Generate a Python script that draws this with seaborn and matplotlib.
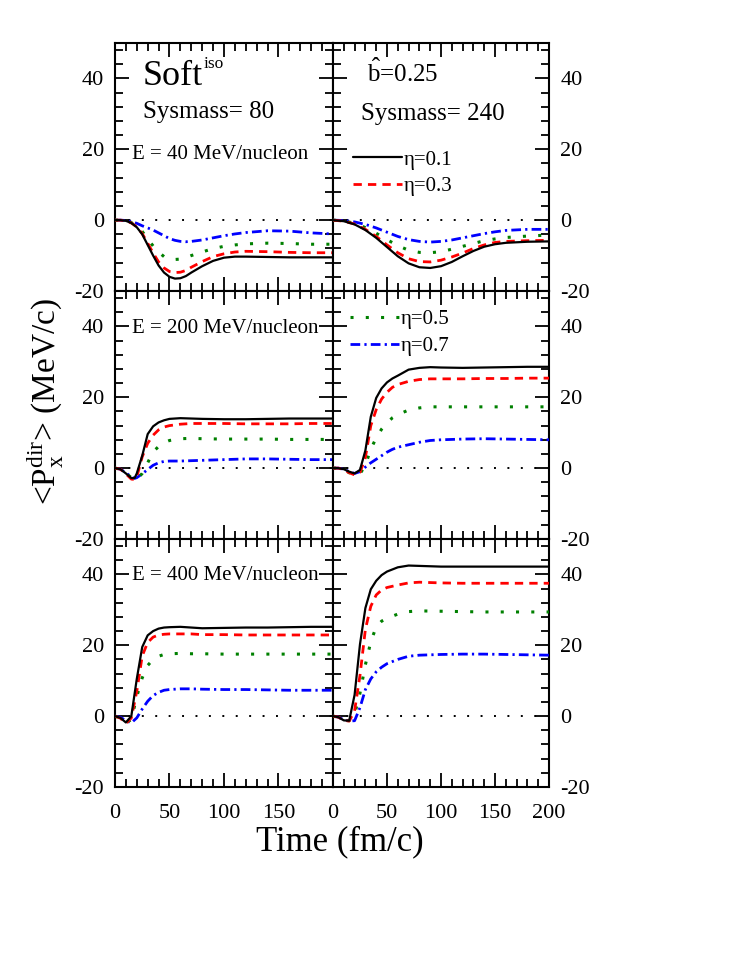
import numpy as np
import pandas as pd
import matplotlib
matplotlib.use('Agg')
import matplotlib.pyplot as plt
import seaborn as sns
from matplotlib.ticker import MultipleLocator, FixedLocator, FuncFormatter
from matplotlib.lines import Line2D

# ---------------- data ----------------
eta_labels = ["η=0.1", "η=0.3", "η=0.5", "η=0.7"]

# E = 40 MeV/nucleon, Sysmass = 80
t_40_80 = [0, 5, 10, 15, 20, 25, 30, 35, 40, 45, 50, 55, 60, 65, 70, 80, 90, 100, 110, 120, 140, 160, 180, 200]
p_40_80_e1 = [0, 0, -0.2, -0.8, -2.0, -4.0, -7.0, -10.0, -12.8, -14.8, -16.0, -16.5, -16.4, -15.8, -14.8, -13.0, -11.5, -10.6, -10.3, -10.3, -10.4, -10.5, -10.5, -10.5]
p_40_80_e3 = [0, 0, -0.2, -0.8, -1.9, -3.8, -6.5, -9.3, -11.8, -13.5, -14.5, -14.8, -14.7, -14.2, -13.3, -11.7, -10.3, -9.5, -9.0, -8.8, -8.9, -9.1, -9.2, -9.2]
p_40_80_e5 = [0, 0, -0.2, -0.7, -1.7, -3.2, -5.3, -7.3, -9.0, -10.3, -11.0, -11.1, -11.0, -10.6, -10.0, -9.0, -8.0, -7.4, -7.0, -6.7, -6.5, -6.6, -6.8, -6.8]
p_40_80_e7 = [0, 0, -0.1, -0.4, -0.9, -1.6, -2.2, -2.8, -3.6, -4.4, -5.2, -5.7, -6.0, -6.1, -6.0, -5.6, -5.0, -4.4, -3.9, -3.5, -3.0, -3.1, -3.6, -3.9]

# E = 40 MeV/nucleon, Sysmass = 240
t_40_240 = [0, 10, 20, 30, 40, 50, 60, 70, 80, 90, 100, 110, 120, 130, 140, 150, 160, 180, 200]
p_40_240_e1 = [0, -0.3, -1.2, -2.8, -5.0, -7.6, -10.2, -12.2, -13.3, -13.5, -13.0, -11.8, -10.2, -8.7, -7.5, -6.8, -6.4, -6.1, -6.0]
p_40_240_e3 = [0, -0.3, -1.1, -2.6, -4.6, -7.0, -9.2, -10.9, -11.7, -11.8, -11.3, -10.4, -9.3, -8.0, -7.0, -6.3, -6.0, -5.8, -5.7]
p_40_240_e5 = [0, -0.2, -0.9, -2.1, -3.7, -5.5, -7.2, -8.5, -9.1, -9.2, -8.9, -8.2, -7.4, -6.6, -5.8, -5.3, -4.9, -4.5, -4.2]
p_40_240_e7 = [0, -0.1, -0.5, -1.2, -2.2, -3.4, -4.6, -5.5, -6.0, -6.2, -6.0, -5.6, -5.0, -4.4, -3.8, -3.3, -2.9, -2.6, -2.6]

# E = 200 MeV/nucleon, Sysmass = 80
t_200_80 = [0, 5, 10, 15, 18, 20, 25, 30, 35, 40, 45, 50, 60, 70, 80, 100, 120, 140, 160, 180, 200]
p_200_80_e1 = [0, -0.3, -1.5, -2.8, -2.8, -1.5, 3.5, 9.6, 11.8, 12.9, 13.5, 13.9, 14.1, 14.0, 13.9, 13.8, 13.8, 13.9, 14.0, 14.0, 14.0]
p_200_80_e3 = [0, -0.3, -1.6, -3.1, -3.2, -2.5, 3.2, 7.0, 9.3, 10.8, 11.6, 12.0, 12.4, 12.6, 12.6, 12.6, 12.5, 12.5, 12.5, 12.6, 12.6]
p_200_80_e5 = [0, -0.3, -1.4, -2.7, -3.2, -3.2, -1.5, 1.5, 4.6, 6.1, 7.2, 7.8, 8.3, 8.4, 8.3, 8.2, 8.2, 8.2, 8.1, 8.1, 8.1]
p_200_80_e7 = [0, -0.3, -1.3, -2.5, -2.9, -2.7, -1.6, -0.4, 0.8, 1.5, 1.9, 2.0, 2.0, 2.1, 2.2, 2.4, 2.6, 2.6, 2.5, 2.4, 2.4]

# E = 200 MeV/nucleon, Sysmass = 240
t_200_240 = [0, 5, 10, 15, 20, 25, 30, 35, 40, 45, 50, 55, 60, 70, 80, 90, 100, 120, 140, 160, 180, 200]
p_200_240_e1 = [0, 0, -0.3, -1.0, -1.5, -0.5, 5.0, 14.5, 19.8, 22.5, 24.2, 25.3, 26.1, 27.8, 28.3, 28.5, 28.4, 28.3, 28.4, 28.5, 28.6, 28.6]
p_200_240_e3 = [0, 0, -0.4, -1.3, -1.9, -1.2, 3.0, 12.0, 16.5, 19.5, 21.4, 22.8, 23.6, 24.5, 25.0, 25.2, 25.2, 25.2, 25.3, 25.3, 25.4, 25.4]
p_200_240_e5 = [0, 0, -0.4, -1.3, -2.0, -1.6, 0.8, 5.4, 8.5, 11.0, 12.8, 14.2, 15.1, 16.4, 17.0, 17.3, 17.3, 17.3, 17.3, 17.3, 17.3, 17.3]
p_200_240_e7 = [0, 0, -0.3, -1.0, -1.5, -1.0, 0.3, 1.5, 2.5, 3.5, 4.5, 5.3, 5.9, 6.6, 7.3, 7.8, 8.0, 8.2, 8.3, 8.2, 8.1, 8.0]

# E = 400 MeV/nucleon, Sysmass = 80
t_400_80 = [0, 5, 10, 15, 20, 25, 30, 35, 40, 45, 50, 60, 70, 80, 100, 120, 140, 160, 180, 200]
p_400_80_e1 = [0, -0.5, -1.8, 0.0, 10.5, 19.5, 22.8, 24.0, 24.7, 25.0, 25.1, 25.2, 25.0, 24.8, 24.9, 25.0, 25.0, 25.1, 25.2, 25.2]
p_400_80_e3 = [0, -0.6, -2.1, -0.5, 7.0, 17.0, 20.8, 22.3, 22.9, 23.1, 23.2, 23.2, 23.2, 23.0, 23.0, 22.9, 22.9, 22.9, 22.9, 22.9]
p_400_80_e5 = [0, -0.6, -1.9, -1.0, 5.5, 10.8, 14.3, 16.0, 16.9, 17.4, 17.6, 17.7, 17.6, 17.6, 17.5, 17.5, 17.5, 17.5, 17.5, 17.5]
p_400_80_e7 = [0, -0.3, -1.3, -1.9, -0.5, 2.0, 4.2, 5.8, 6.7, 7.3, 7.5, 7.7, 7.7, 7.6, 7.5, 7.5, 7.4, 7.3, 7.3, 7.3]

# E = 400 MeV/nucleon, Sysmass = 240
t_400_240 = [0, 5, 10, 15, 20, 25, 30, 35, 40, 45, 50, 60, 70, 80, 100, 120, 140, 160, 180, 200]
p_400_240_e1 = [0, -0.3, -1.2, -1.3, 6.0, 20.3, 30.5, 35.8, 38.2, 39.8, 40.8, 42.0, 42.5, 42.4, 42.2, 42.2, 42.2, 42.2, 42.2, 42.2]
p_400_240_e3 = [0, -0.3, -1.2, -1.4, 1.5, 11.5, 24.5, 31.0, 34.2, 35.6, 36.3, 37.0, 37.6, 37.8, 37.6, 37.5, 37.5, 37.5, 37.5, 37.5]
p_400_240_e5 = [0, -0.3, -1.1, -1.3, 0.5, 6.5, 14.5, 21.0, 25.2, 26.8, 27.6, 28.8, 29.5, 29.7, 29.6, 29.5, 29.4, 29.4, 29.4, 29.4]
p_400_240_e7 = [0, -0.3, -1.0, -1.4, -1.3, 2.4, 7.5, 10.5, 12.5, 13.8, 14.8, 16.0, 16.9, 17.2, 17.4, 17.5, 17.5, 17.4, 17.3, 17.2]

x_ticks = [0, 50, 100, 150, 200]
y_ticks = [-20, 0, 20, 40]

# ---------------- style ----------------
sns.set_theme(style='ticks')
plt.rcParams['font.family'] = ['Liberation Serif', 'DejaVu Serif']
plt.rcParams['mathtext.fontset'] = 'custom'
plt.rcParams['mathtext.rm'] = 'Liberation Serif'
plt.rcParams['mathtext.it'] = 'Liberation Serif:italic'
plt.rcParams['mathtext.bf'] = 'Liberation Serif:bold'
plt.rcParams['axes.unicode_minus'] = False
plt.rcParams['text.color'] = 'black'
plt.rcParams['axes.labelcolor'] = 'black'
plt.rcParams['legend.labelcolor'] = 'black'

fig = plt.figure(figsize=(7.52, 9.73), dpi=100)

col_x = [0.1529, 0.4428]
col_w = [0.2899, 0.2873]
row_bottom = 0.1912
row_h = (0.9558 - 0.1912) / 3

styles = [
    dict(color='black', linestyle='-', linewidth=1.6),
    dict(color='#ff0000', linestyle=(0, (3, 2.2)), linewidth=2.0),
    dict(color='#008000', linestyle=(0, (1, 4)), linewidth=2.2),
    dict(color='#0000ff', linestyle=(0, (3.5, 1.5, 0.8, 1.5)), linewidth=2.0),
]

panels = [
    [(t_40_80, [p_40_80_e1, p_40_80_e3, p_40_80_e5, p_40_80_e7]),
     (t_40_240, [p_40_240_e1, p_40_240_e3, p_40_240_e5, p_40_240_e7])],
    [(t_200_80, [p_200_80_e1, p_200_80_e3, p_200_80_e5, p_200_80_e7]),
     (t_200_240, [p_200_240_e1, p_200_240_e3, p_200_240_e5, p_200_240_e7])],
    [(t_400_80, [p_400_80_e1, p_400_80_e3, p_400_80_e5, p_400_80_e7]),
     (t_400_240, [p_400_240_e1, p_400_240_e3, p_400_240_e5, p_400_240_e7])],
]

axes = {}
for r in range(3):
    for c in range(2):
        y0 = row_bottom + (2 - r) * row_h
        ax = fig.add_axes([col_x[c], y0, col_w[c], row_h])
        axes[(r, c)] = ax
        t, series = panels[r][c]
        ax.axhline(0, color='black', linestyle=(0, (1, 5.9)), linewidth=1.4, zorder=1)
        handles = []
        for k, vals in enumerate(series):
            df = pd.DataFrame({'t': t, 'p': vals})
            sns.lineplot(data=df, x='t', y='p', ax=ax, sort=True, estimator=None,
                         zorder=3 + (3 - k), **styles[k])
            handles.append(Line2D([], [], **styles[k]))
        ax.set_xlim(0, 200)
        ax.set_ylim(-20, 50)
        ax.set_xlabel('')
        ax.set_ylabel('')
        ax.xaxis.set_major_locator(FixedLocator(x_ticks))
        ax.xaxis.set_minor_locator(MultipleLocator(10))
        ax.yaxis.set_major_locator(FixedLocator(y_ticks))
        ax.yaxis.set_minor_locator(MultipleLocator(4))
        ax.tick_params(which='both', direction='in', top=True, bottom=True,
                       left=True, right=True, width=1.3, colors='black',
                       labelsize=16)
        ax.tick_params(which='major', length=10)
        ax.tick_params(which='minor', length=5.5)
        ax.tick_params(axis='x', pad=12)
        ax.tick_params(axis='y', pad=8)
        ax.tick_params(labelbottom=(r == 2), labeltop=False,
                       labelleft=(c == 0), labelright=(c == 1))
        for sp in ax.spines.values():
            sp.set_linewidth(1.5)
            sp.set_color('black')
        if r == 2 and c == 0:
            ax.xaxis.set_major_formatter(FuncFormatter(lambda v, p: '' if v == 200 else f'{v:g}'))
        else:
            ax.xaxis.set_major_formatter(FuncFormatter(lambda v, p: f'{v:g}'))
        ax.yaxis.set_major_formatter(FuncFormatter(lambda v, p: f'{v:g}'))
        ax.set_facecolor('white')
        if r == 0 and c == 1:
            ax.legend(handles[:2], eta_labels[:2], loc='center left',
                      bbox_to_anchor=(0.093, 0.475), frameon=False, fontsize=15,
                      handlelength=2.35, handletextpad=0.1, labelspacing=0.35,
                      borderpad=0, borderaxespad=0)
        if r == 1 and c == 1:
            ax.legend(handles[2:], eta_labels[2:], loc='center left',
                      bbox_to_anchor=(0.079, 0.832), frameon=False, fontsize=15,
                      handlelength=2.35, handletextpad=0.1, labelspacing=0.35,
                      borderpad=0, borderaxespad=0)

# panel annotations
a = axes[(0, 0)]
a.text(0.128, 0.83, 'Soft', transform=a.transAxes, fontsize=26,
       ha='left', va='baseline')
a.text(0.405, 0.899, 'iso', transform=a.transAxes, fontsize=12.5,
       ha='left', va='baseline')
a.text(0.128, 0.699, 'Sysmass= 80', transform=a.transAxes, fontsize=18,
       ha='left', va='baseline')
a.text(0.080, 0.533, 'E = 40 MeV/nucleon', transform=a.transAxes, fontsize=15,
       ha='left', va='baseline')
a = axes[(1, 0)]
a.text(0.080, 0.832, 'E = 200 MeV/nucleon', transform=a.transAxes, fontsize=15,
       ha='left', va='baseline')
a = axes[(2, 0)]
a.text(0.080, 0.835, 'E = 400 MeV/nucleon', transform=a.transAxes, fontsize=15,
       ha='left', va='baseline')
a = axes[(0, 1)]
a.text(0.156, 0.843, r'$\hat{\mathrm{b}}$=0.25', transform=a.transAxes, fontsize=18,
       ha='left', va='baseline')
a.text(0.128, 0.688, 'Sysmass= 240', transform=a.transAxes, fontsize=18,
       ha='left', va='baseline')

fig.text(340 / 752, 1 - 842 / 973, 'Time (fm/c)', fontsize=25, ha='center', va='center')
fig.text(45 / 752, 1 - 402 / 973,
         r'<P$_{\mathregular{x}}^{\mathregular{dir}}$> (MeV/c)',
         fontsize=24, rotation=90, ha='center', va='center')

fig.savefig('out.png', dpi=100, facecolor='white')
